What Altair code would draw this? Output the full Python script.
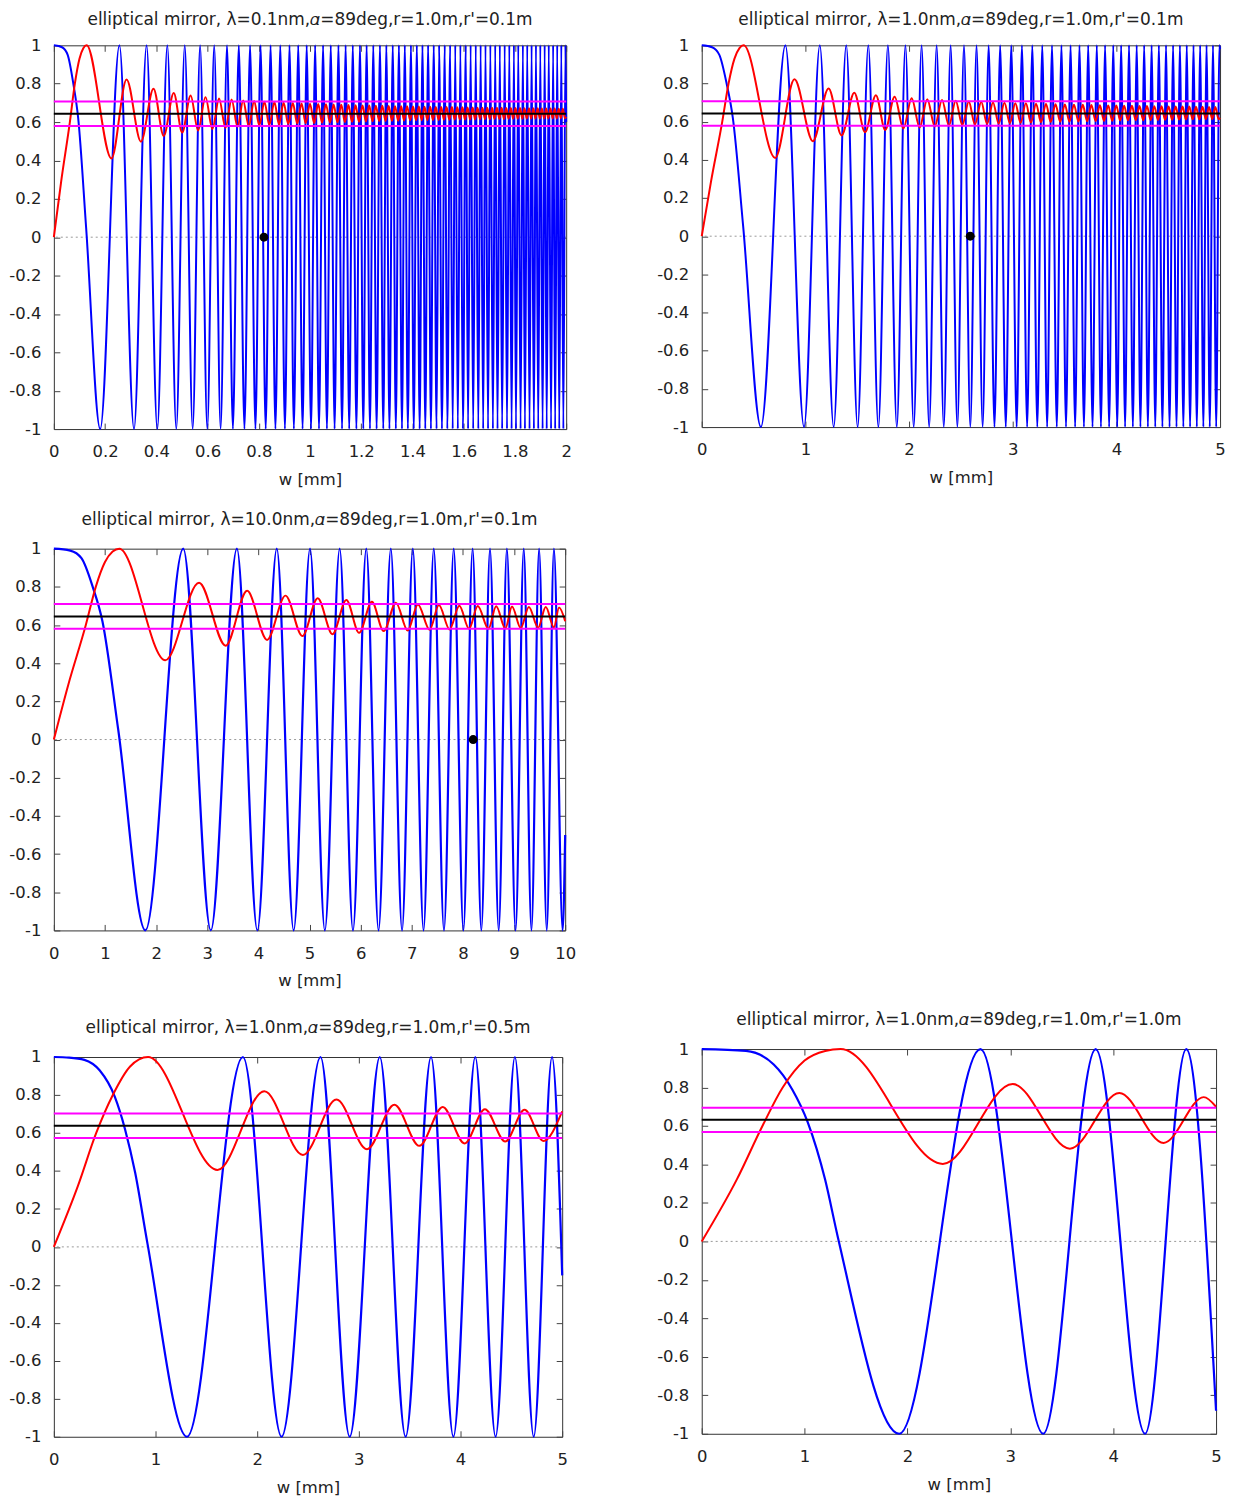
import altair as alt
import pandas as pd

FONT = "DejaVu Sans"
TXT = "#222222"

Y_TICKS = [-1, -0.8, -0.6, -0.4, -0.2, 0, 0.2, 0.4, 0.6, 0.8, 1]
X_TICKS_2 = [0, 0.2, 0.4, 0.6, 0.8, 1.0, 1.2, 1.4, 1.6, 1.8, 2.0]
X_TICKS_5 = [0, 1, 2, 3, 4, 5]
X_TICKS_10 = [0, 1, 2, 3, 4, 5, 6, 7, 8, 9, 10]

TITLES = [
    "elliptical mirror, \u03bb=0.1nm,\U0001D6FC=89deg,r=1.0m,r'=0.1m",
    "elliptical mirror, \u03bb=1.0nm,\U0001D6FC=89deg,r=1.0m,r'=0.1m",
    "elliptical mirror, \u03bb=10.0nm,\U0001D6FC=89deg,r=1.0m,r'=0.1m",
    "elliptical mirror, \u03bb=1.0nm,\U0001D6FC=89deg,r=1.0m,r'=0.5m",
    "elliptical mirror, \u03bb=1.0nm,\U0001D6FC=89deg,r=1.0m,r'=1.0m",
]

# ---------------- panel 1 (lambda = 0.1 nm, w 0..2 mm) ----------------
p1_blue_start_w = [0, 0.032, 0.054, 0.076, 0.095, 0.126]
p1_blue_start_y = [1, 0.99, 0.95, 0.8, 0.62, 0.05]
p1_blue_peak_w = [0.256, 0.362, 0.443, 0.511, 0.571, 0.626, 0.676, 0.722, 0.766, 0.807,
                  0.846, 0.884, 0.920, 0.954, 0.987, 1.020, 1.051, 1.081, 1.111, 1.139,
                  1.167, 1.195, 1.221, 1.247, 1.273, 1.298, 1.323, 1.347, 1.370, 1.394,
                  1.417, 1.439, 1.461, 1.483, 1.504, 1.526, 1.547, 1.567, 1.587, 1.608,
                  1.627, 1.647, 1.666, 1.685, 1.704, 1.723, 1.741, 1.760, 1.778, 1.796,
                  1.813, 1.831, 1.848, 1.865, 1.882, 1.899, 1.916, 1.932, 1.949, 1.965,
                  1.981, 1.997]
p1_blue_trough_w = [0.181, 0.313, 0.404, 0.478, 0.542, 0.599, 0.651, 0.699, 0.744, 0.787,
                    0.827, 0.865, 0.902, 0.937, 0.971, 1.004, 1.035, 1.066, 1.096, 1.125,
                    1.153, 1.181, 1.208, 1.234, 1.260, 1.286, 1.310, 1.335, 1.359, 1.382,
                    1.405, 1.428, 1.450, 1.472, 1.494, 1.515, 1.536, 1.557, 1.577, 1.597,
                    1.617, 1.637, 1.657, 1.676, 1.695, 1.714, 1.732, 1.750, 1.769, 1.787,
                    1.804, 1.822, 1.839, 1.857, 1.874, 1.891, 1.908, 1.924, 1.941, 1.957,
                    1.973, 1.989]
p1_blue_end = [2.0, 0.6]

p1_red_start_w = [0, 0.028, 0.0625, 0.082, 0.1, 0.115]
p1_red_start_y = [0, 0.285, 0.6, 0.8, 0.93, 0.985]
p1_red_peak_w = [0.128, 0.284, 0.389, 0.468, 0.534, 0.592, 0.645, 0.694, 0.739, 0.782,
                 0.822, 0.861, 0.897, 0.933, 0.967, 1.000, 1.032, 1.062, 1.092, 1.122,
                 1.150, 1.178, 1.205, 1.231, 1.257, 1.282, 1.307, 1.332, 1.356, 1.379,
                 1.402, 1.425, 1.447, 1.469, 1.491, 1.512, 1.533, 1.554, 1.575, 1.595,
                 1.615, 1.635, 1.654, 1.673, 1.692, 1.711, 1.730, 1.748, 1.766, 1.784,
                 1.802, 1.820, 1.837, 1.855, 1.872, 1.889, 1.905, 1.922, 1.939, 1.955,
                 1.971, 1.987]
p1_red_peak_y = [1.0, 0.822, 0.774, 0.752, 0.739, 0.730, 0.723, 0.718, 0.713, 0.710,
                 0.706, 0.704, 0.701, 0.699, 0.697, 0.696, 0.694, 0.693, 0.691, 0.690,
                 0.689, 0.688, 0.687, 0.686, 0.685, 0.685, 0.684, 0.683, 0.682, 0.682,
                 0.681, 0.681, 0.680, 0.680, 0.679, 0.679, 0.678, 0.678, 0.677, 0.677,
                 0.676, 0.676, 0.675, 0.675, 0.675, 0.674, 0.674, 0.674, 0.673, 0.673,
                 0.673, 0.673, 0.672, 0.672, 0.672, 0.672, 0.671, 0.671, 0.671, 0.671,
                 0.670, 0.670]
p1_red_trough_w = [0.225, 0.340, 0.429, 0.501, 0.563, 0.619, 0.670, 0.717, 0.761, 0.802,
                   0.841, 0.879, 0.915, 0.950, 0.983, 1.016, 1.047, 1.078, 1.107, 1.136,
                   1.164, 1.191, 1.218, 1.244, 1.270, 1.295, 1.320, 1.344, 1.367, 1.391,
                   1.414, 1.436, 1.458, 1.480, 1.502, 1.523, 1.544, 1.565, 1.585, 1.605,
                   1.625, 1.644, 1.664, 1.683, 1.702, 1.720, 1.739, 1.757, 1.775, 1.793,
                   1.811, 1.829, 1.846, 1.863, 1.880, 1.897, 1.914, 1.930, 1.947, 1.963,
                   1.979, 1.995]
p1_red_trough_y = [0.41, 0.498, 0.528, 0.545, 0.556, 0.564, 0.570, 0.575, 0.579, 0.582,
                   0.585, 0.588, 0.590, 0.592, 0.594, 0.595, 0.597, 0.598, 0.599, 0.600,
                   0.601, 0.602, 0.603, 0.604, 0.605, 0.606, 0.607, 0.607, 0.608, 0.609,
                   0.609, 0.610, 0.610, 0.611, 0.611, 0.612, 0.612, 0.613, 0.613, 0.613,
                   0.614, 0.614, 0.615, 0.615, 0.615, 0.616, 0.616, 0.616, 0.617, 0.617,
                   0.617, 0.617, 0.618, 0.618, 0.618, 0.618, 0.619, 0.619, 0.619, 0.619,
                   0.620, 0.620]
p1_red_end = [2.0, 0.628]
p1_levels = [0.643, 0.707, 0.579]
p1_dot = [0.82, 0]

# ---------------- panel 2 (lambda = 1.0 nm, w 0..5 mm) ----------------
p2_blue_start_w = [0, 0.1, 0.17, 0.24, 0.3, 0.4]
p2_blue_start_y = [1, 0.99, 0.95, 0.8, 0.62, 0.05]
p2_blue_peak_w = [0.807, 1.139, 1.394, 1.607, 1.796, 1.965, 2.121, 2.266, 2.401, 2.530,
                  2.651, 2.768, 2.879, 2.986, 3.089, 3.189, 3.285, 3.379, 3.470, 3.558,
                  3.644, 3.728, 3.811, 3.891, 3.970, 4.046, 4.122, 4.196, 4.268, 4.340,
                  4.410, 4.479, 4.547, 4.613, 4.679, 4.744, 4.808, 4.870, 4.932, 4.994]
p2_blue_trough_w = [0.571, 0.987, 1.273, 1.504, 1.704, 1.882, 2.045, 2.194, 2.335, 2.466,
                    2.591, 2.710, 2.824, 2.933, 3.038, 3.139, 3.237, 3.332, 3.425, 3.514,
                    3.602, 3.687, 3.770, 3.851, 3.930, 4.008, 4.084, 4.159, 4.232, 4.304,
                    4.375, 4.444, 4.513, 4.580, 4.646, 4.711, 4.776, 4.839, 4.901, 4.963]
p2_blue_end = [5.0, 0.98]

p2_red_start_w = [0, 0.089, 0.198, 0.259, 0.316, 0.364]
p2_red_start_y = [0, 0.285, 0.6, 0.8, 0.93, 0.985]
p2_red_peak_w = [0.404, 0.895, 1.224, 1.472, 1.680, 1.861, 2.025, 2.176, 2.318, 2.450,
                 2.576, 2.696, 2.810, 2.920, 3.025, 3.127, 3.225, 3.321, 3.413, 3.503,
                 3.591, 3.676, 3.759, 3.841, 3.921, 3.999, 4.075, 4.150, 4.223, 4.295,
                 4.366, 4.436, 4.504, 4.572, 4.638, 4.703, 4.768, 4.831, 4.894, 4.955]
p2_red_peak_y = [1.0, 0.822, 0.774, 0.752, 0.739, 0.730, 0.723, 0.718, 0.713, 0.710,
                 0.706, 0.704, 0.701, 0.699, 0.697, 0.696, 0.694, 0.693, 0.691, 0.690,
                 0.689, 0.688, 0.687, 0.686, 0.685, 0.685, 0.684, 0.683, 0.682, 0.682,
                 0.681, 0.681, 0.680, 0.680, 0.679, 0.679, 0.678, 0.678, 0.677, 0.677]
p2_red_trough_w = [0.709, 1.072, 1.349, 1.575, 1.770, 1.945, 2.102, 2.248, 2.385, 2.514,
                   2.636, 2.753, 2.865, 2.973, 3.076, 3.176, 3.273, 3.367, 3.458, 3.547,
                   3.634, 3.718, 3.800, 3.881, 3.960, 4.037, 4.112, 4.187, 4.259, 4.331,
                   4.401, 4.470, 4.538, 4.605, 4.671, 4.736, 4.800, 4.863, 4.925, 4.986]
p2_red_trough_y = [0.41, 0.498, 0.528, 0.545, 0.556, 0.564, 0.570, 0.575, 0.579, 0.582,
                   0.585, 0.588, 0.590, 0.592, 0.594, 0.595, 0.597, 0.598, 0.599, 0.600,
                   0.601, 0.602, 0.603, 0.604, 0.605, 0.606, 0.607, 0.607, 0.608, 0.609,
                   0.609, 0.610, 0.610, 0.611, 0.611, 0.612, 0.612, 0.613, 0.613, 0.613]
p2_red_end = [5.0, 0.62]
p2_levels = [0.643, 0.707, 0.579]
p2_dot = [2.59, 0]

# ---------------- panel 3 (lambda = 10 nm, w 0..10 mm) ----------------
p3_blue_start_w = [0, 0.32, 0.54, 0.76, 0.95, 1.26]
p3_blue_start_y = [1, 0.99, 0.95, 0.8, 0.62, 0.05]
p3_blue_peak_w = [2.53, 3.58, 4.36, 5.01, 5.59, 6.11, 6.59, 7.02, 7.43, 7.82, 8.19, 8.53,
                  8.86, 9.19, 9.49, 9.78]
p3_blue_trough_w = [1.79, 3.07, 3.98, 4.69, 5.30, 5.85, 6.35, 6.81, 7.23, 7.63, 8.01, 8.36,
                    8.70, 9.03, 9.34, 9.64, 9.95]
p3_blue_end = [10.0, -0.5]

p3_red_start_w = [0, 0.28, 0.625, 0.82, 1.0, 1.15]
p3_red_start_y = [0, 0.285, 0.6, 0.8, 0.93, 0.985]
p3_red_peak_w = [1.28, 2.84, 3.78, 4.53, 5.16, 5.72, 6.22, 6.69, 7.12, 7.53, 7.93, 8.29,
                 8.65, 8.96, 9.29, 9.62, 9.88]
p3_red_peak_y = [1.0, 0.822, 0.779, 0.754, 0.740, 0.731, 0.722, 0.717, 0.708, 0.705, 0.701,
                 0.700, 0.698, 0.697, 0.695, 0.694, 0.692]
p3_red_trough_w = [2.18, 3.36, 4.17, 4.86, 5.45, 5.97, 6.45, 6.92, 7.35, 7.74, 8.12, 8.50,
                   8.83, 9.13, 9.47, 9.78]
p3_red_trough_y = [0.415, 0.492, 0.522, 0.542, 0.552, 0.559, 0.568, 0.571, 0.575, 0.577,
                   0.580, 0.580, 0.582, 0.584, 0.586, 0.588]
p3_red_end = [10.0, 0.62]
p3_levels = [0.645, 0.71, 0.581]
p3_dot = [8.2, 0]

# ---------------- panel 4 (lambda = 1.0 nm, r' = 0.5 m) ----------------
p4_blue_start_w = [0, 0.15, 0.3, 0.45, 0.6, 0.7, 0.8, 0.92]
p4_blue_start_y = [1, 0.997, 0.985, 0.93, 0.79, 0.62, 0.39, 0.02]
p4_blue_peak_w = [1.86, 2.623, 3.206, 3.71, 4.145, 4.535, 4.90]
p4_blue_trough_w = [1.31, 2.24, 2.91, 3.46, 3.93, 4.345, 4.72]
p4_blue_end = [5.0, -0.15]

p4_red_start_w = [0, 0.236, 0.417, 0.58, 0.75]
p4_red_start_y = [0, 0.32, 0.6, 0.8, 0.95]
p4_red_peak_w = [0.927, 2.07, 2.78, 3.35, 3.825, 4.24, 4.63]
p4_red_peak_y = [1.0, 0.82, 0.776, 0.749, 0.737, 0.725, 0.722]
p4_red_trough_w = [1.609, 2.45, 3.08, 3.595, 4.04, 4.44, 4.815]
p4_red_trough_y = [0.405, 0.484, 0.514, 0.532, 0.545, 0.555, 0.558]
p4_red_end = [5.0, 0.714]
p4_levels = [0.638, 0.702, 0.574]

# ---------------- panel 5 (lambda = 1.0 nm, r' = 1.0 m) ----------------
p5_blue_start_w = [0, 0.43, 0.7, 0.88, 1.03, 1.2, 1.32]
p5_blue_start_y = [1, 0.99, 0.92, 0.79, 0.62, 0.32, 0.03]
p5_blue_peak_w = [2.71, 3.83, 4.71]
p5_blue_trough_w = [1.92, 3.32, 4.31]
p5_blue_end = [5.0, -0.88]

p5_red_start_w = [0, 0.344, 0.59, 0.787, 1.0, 1.2]
p5_red_start_y = [0, 0.325, 0.6, 0.8, 0.94, 0.99]
p5_red_peak_w = [1.35, 3.023, 4.06, 4.88]
p5_red_peak_y = [1.0, 0.818, 0.772, 0.75]
p5_red_trough_w = [2.344, 3.58, 4.49]
p5_red_trough_y = [0.403, 0.482, 0.512]
p5_red_end = [5.0, 0.70]
p5_levels = [0.632, 0.695, 0.569]


def series(start_w, start_y, peak_w, peak_y, trough_w, trough_y, end):
    rows = list(zip(start_w, start_y)) + list(zip(peak_w, peak_y)) + \
        list(zip(trough_w, trough_y)) + [tuple(end)]
    rows.sort(key=lambda r: r[0])
    return pd.DataFrame(rows, columns=["w", "v"])


def blue_series(start_w, start_y, peak_w, trough_w, end):
    return series(start_w, start_y, peak_w, [1] * len(peak_w),
                  trough_w, [-1] * len(trough_w), end)


LABEL_EXPR = ("datum.value < 0 ? '-' + format(-datum.value, '~g') "
              ": format(datum.value, '~g')")


def panel(title, xmax, xticks, blue, red, levels, dot, width, height, toff, bw):
    xs = alt.Scale(domain=[0, xmax], nice=False, zero=False)
    ys = alt.Scale(domain=[-1, 1], nice=False, zero=False)
    common = dict(tickSize=6, offset=-6, domain=False, grid=False,
                  tickColor="#444444", tickWidth=1)
    xb = alt.Axis(orient="bottom", values=xticks, labelExpr=LABEL_EXPR,
                  labelFlush=False, labelOverlap=False, labelPadding=15,
                  labelFont=FONT, labelFontSize=16.5, labelColor=TXT,
                  title="w [mm]", titleFont=FONT, titleFontSize=16.5,
                  titleFontWeight="normal", titleColor=TXT, titlePadding=11,
                  **common)
    xt = alt.Axis(orient="top", values=xticks, labels=False, title=None, **common)
    yl = alt.Axis(orient="left", values=Y_TICKS, labelExpr=LABEL_EXPR,
                  labelOverlap=False, labelPadding=13, labelFont=FONT,
                  labelFontSize=16.5, labelColor=TXT, title=None, **common)
    yr = alt.Axis(orient="right", values=Y_TICKS, labels=False, title=None, **common)

    zero = alt.Chart(pd.DataFrame({"v": [0]})).mark_rule(
        color="#999999", strokeDash=[2, 3], strokeWidth=1
    ).encode(y=alt.Y("v:Q", scale=ys, axis=None))
    bl = alt.Chart(blue).mark_line(
        color="#0000ff", strokeWidth=bw, interpolate="monotone"
    ).encode(x=alt.X("w:Q", scale=xs, axis=xb), y=alt.Y("v:Q", scale=ys, axis=yl))
    rd = alt.Chart(red).mark_line(
        color="#ff0000", strokeWidth=2, interpolate="monotone"
    ).encode(x=alt.X("w:Q", scale=xs, axis=xt), y=alt.Y("v:Q", scale=ys, axis=yr))
    mg = alt.Chart(pd.DataFrame({"v": levels[1:]})).mark_rule(
        color="#ff00ff", strokeWidth=2
    ).encode(y=alt.Y("v:Q", scale=ys, axis=None))
    bk = alt.Chart(pd.DataFrame({"v": levels[:1]})).mark_rule(
        color="#000000", strokeWidth=2
    ).encode(y=alt.Y("v:Q", scale=ys, axis=None))
    layers = [zero, bl, rd, mg, bk]
    if dot is not None:
        dt = alt.Chart(pd.DataFrame({"w": [dot[0]], "v": [dot[1]]})).mark_circle(
            size=80, color="#000000", opacity=1
        ).encode(x=alt.X("w:Q", scale=xs, axis=None),
                 y=alt.Y("v:Q", scale=ys, axis=None))
        layers.append(dt)
    return alt.layer(*layers).resolve_axis(
        x="independent", y="independent"
    ).properties(
        width=width, height=height,
        title=alt.TitleParams(text=title, font=FONT, fontSize=17,
                              fontWeight="normal", color=TXT, offset=toff,
                              anchor="middle", frame="group"),
    )


c1 = panel(TITLES[0], 2, X_TICKS_2,
           blue_series(p1_blue_start_w, p1_blue_start_y, p1_blue_peak_w, p1_blue_trough_w, p1_blue_end),
           series(p1_red_start_w, p1_red_start_y, p1_red_peak_w, p1_red_peak_y,
                  p1_red_trough_w, p1_red_trough_y, p1_red_end),
           p1_levels, p1_dot, 514, 385, 8, 2.0)
c2 = panel(TITLES[1], 5, X_TICKS_5,
           blue_series(p2_blue_start_w, p2_blue_start_y, p2_blue_peak_w, p2_blue_trough_w, p2_blue_end),
           series(p2_red_start_w, p2_red_start_y, p2_red_peak_w, p2_red_peak_y,
                  p2_red_trough_w, p2_red_trough_y, p2_red_end),
           p2_levels, p2_dot, 520, 383, 8, 2.0)
c3 = panel(TITLES[2], 10, X_TICKS_10,
           blue_series(p3_blue_start_w, p3_blue_start_y, p3_blue_peak_w, p3_blue_trough_w, p3_blue_end),
           series(p3_red_start_w, p3_red_start_y, p3_red_peak_w, p3_red_peak_y,
                  p3_red_trough_w, p3_red_trough_y, p3_red_end),
           p3_levels, p3_dot, 513, 383, 12, 2.2)
c4 = panel(TITLES[3], 5, X_TICKS_5,
           blue_series(p4_blue_start_w, p4_blue_start_y, p4_blue_peak_w, p4_blue_trough_w, p4_blue_end),
           series(p4_red_start_w, p4_red_start_y, p4_red_peak_w, p4_red_peak_y,
                  p4_red_trough_w, p4_red_trough_y, p4_red_end),
           p4_levels, None, 510, 381, 12, 2.2)
c5 = panel(TITLES[4], 5, X_TICKS_5,
           blue_series(p5_blue_start_w, p5_blue_start_y, p5_blue_peak_w, p5_blue_trough_w, p5_blue_end),
           series(p5_red_start_w, p5_red_start_y, p5_red_peak_w, p5_red_peak_y,
                  p5_red_trough_w, p5_red_trough_y, p5_red_end),
           p5_levels, None, 516, 386, 12, 2.2)

left = alt.vconcat(alt.vconcat(c1, c3, spacing=21), c4, spacing=28)
right = alt.vconcat(c2, c5, spacing=525)

chart = alt.hconcat(left, right, spacing=80).properties(
    padding={"left": 0, "top": 0, "right": 5, "bottom": 0},
    background="white",
).configure_view(stroke="#333333", strokeWidth=1)

chart.save("out.html", embed_options={"renderer": "svg", "actions": False})
